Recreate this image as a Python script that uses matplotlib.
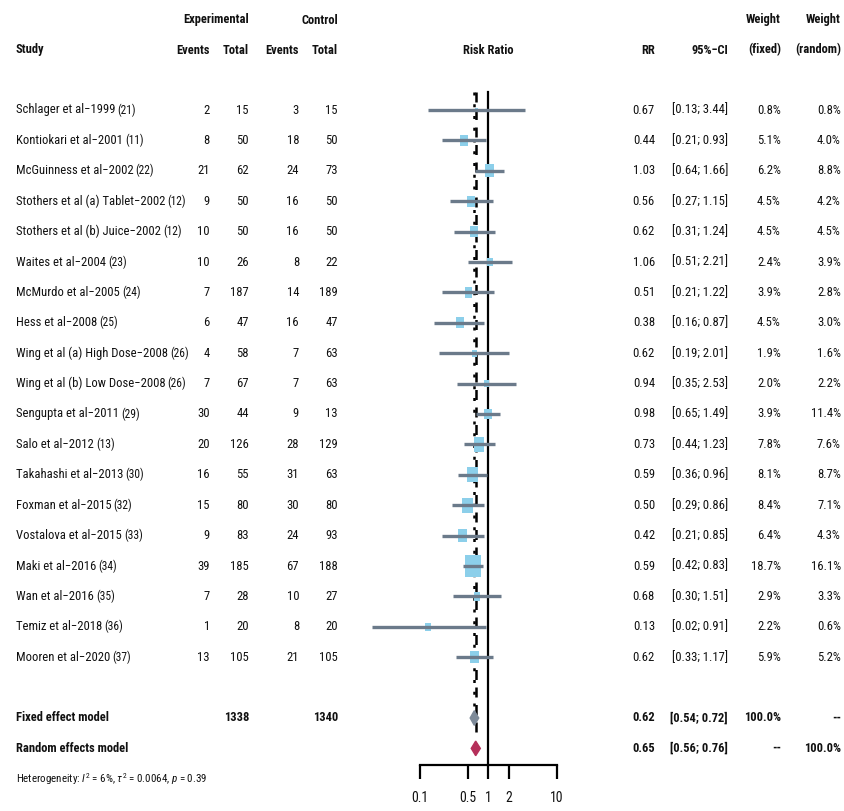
import matplotlib
matplotlib.use("Agg")
import matplotlib.pyplot as plt
import matplotlib.transforms as mtransforms
import matplotlib.font_manager as fm
import numpy as np

# ---------------- data ----------------
study_names = ["Schlager et al\u22121999", "Kontiokari et al\u22122001", "McGuinness et al\u22122002",
               "Stothers et al (a) Tablet\u22122002", "Stothers et al (b) Juice\u22122002",
               "Waites et al\u22122004", "McMurdo et al\u22122005", "Hess et al\u22122008",
               "Wing et al (a) High Dose\u22122008", "Wing et al (b) Low Dose\u22122008",
               "Sengupta et al\u22122011", "Salo et al\u22122012", "Takahashi et al\u22122013",
               "Foxman et al\u22122015", "Vostalova et al\u22122015", "Maki et al\u22122016",
               "Wan et al\u22122016", "Temiz et al\u22122018", "Mooren et al\u22122020"]
study_refs = ["(21)", "(11)", "(22)", "(12)", "(12)", "(23)", "(24)", "(25)", "(26)", "(26)",
              "(29)", "(13)", "(30)", "(32)", "(33)", "(34)", "(35)", "(36)", "(37)"]
events_exp = [2, 8, 21, 9, 10, 10, 7, 6, 4, 7, 30, 20, 16, 15, 9, 39, 7, 1, 13]
total_exp = [15, 50, 62, 50, 50, 26, 187, 47, 58, 67, 44, 126, 55, 80, 83, 185, 28, 20, 105]
events_ctl = [3, 18, 24, 16, 16, 8, 14, 16, 7, 7, 9, 28, 31, 30, 24, 67, 10, 8, 21]
total_ctl = [15, 50, 73, 50, 50, 22, 189, 47, 63, 63, 13, 129, 63, 80, 93, 188, 27, 20, 105]
rr = [0.67, 0.44, 1.03, 0.56, 0.62, 1.06, 0.51, 0.38, 0.62, 0.94, 0.98, 0.73, 0.59, 0.50, 0.42, 0.59, 0.68, 0.13, 0.62]
ci_low = [0.13, 0.21, 0.64, 0.27, 0.31, 0.51, 0.21, 0.16, 0.19, 0.35, 0.65, 0.44, 0.36, 0.29, 0.21, 0.42, 0.30, 0.02, 0.33]
ci_high = [3.44, 0.93, 1.66, 1.15, 1.24, 2.21, 1.22, 0.87, 2.01, 2.53, 1.49, 1.23, 0.96, 0.86, 0.85, 0.83, 1.51, 0.91, 1.17]
w_fixed = [0.8, 5.1, 6.2, 4.5, 4.5, 2.4, 3.9, 4.5, 1.9, 2.0, 3.9, 7.8, 8.1, 8.4, 6.4, 18.7, 2.9, 2.2, 5.9]
w_random = [0.8, 4.0, 8.8, 4.2, 4.5, 3.9, 2.8, 3.0, 1.6, 2.2, 11.4, 7.6, 8.7, 7.1, 4.3, 16.1, 3.3, 0.6, 5.2]

fixed_total_exp, fixed_total_ctl = 1338, 1340
fixed_est, fixed_lo, fixed_hi = 0.62, 0.54, 0.72
random_est, random_lo, random_hi = 0.65, 0.56, 0.76
het_text = r"Heterogeneity: $I^2$ = 6%, $\tau^2$ = 0.0064, $p$ = 0.39"
xticks = [0.1, 0.5, 1, 2, 10]
xtick_labels = ["0.1", "0.5", "1", "2", "10"]

# ---------------- style ----------------
names = {f.name for f in fm.fontManager.ttflist}
fam = next((n for n in ["Liberation Sans Narrow", "Arial Narrow", "Roboto Condensed",
                        "Liberation Sans"] if n in names), "DejaVu Sans")
plt.rcParams["font.family"] = [fam, "DejaVu Sans"]
plt.rcParams["mathtext.fontset"] = "custom"
plt.rcParams["mathtext.rm"] = fam
plt.rcParams["mathtext.it"] = fam + ":italic"
plt.rcParams["mathtext.bf"] = fam + ":bold"

FS = 9.1
FSB = 9.0
FSREF = 8.3
TXT_COL = "#111111"
W, H = 845, 811
fig = plt.figure(figsize=(W / 100, H / 100), dpi=100)

# forest axes: log x, 0.1 -> 420px, 10 -> 557px
px_per_dec = (557 - 420) / 2.0
x_left_px = 420 - px_per_dec
x_right_px = 557 + px_per_dec
row0_px, row_h = 110, 30.4


def prow(px):
    return (px - row0_px) / row_h


ax = fig.add_axes([x_left_px / W, 0, (x_right_px - x_left_px) / W, 1])
ax.set_xscale("log")
ax.set_xlim(0.01, 100)
ax.set_ylim(prow(H), prow(0))
ax.patch.set_visible(False)
for s in ["top", "left", "right"]:
    ax.spines[s].set_visible(False)
axis_row = prow(765)
ax.spines["bottom"].set_position(("data", axis_row))
ax.spines["bottom"].set_bounds(0.1, 10)
ax.spines["bottom"].set_linewidth(1.6)
ax.set_xticks(xticks)
ax.set_xticklabels(xtick_labels, fontsize=FS + 0.8, color=TXT_COL)
ax.xaxis.set_minor_locator(matplotlib.ticker.NullLocator())
ax.tick_params(axis="x", direction="out", length=10, width=1.6, pad=9)
ax.set_yticks([])

n = len(study_names)
rows = np.arange(n)
fixed_row = n + 1
random_row = n + 2
het_row = n + 3
top_row = prow(92)

# reference lines
ax.plot([1, 1], [top_row, axis_row], color="black", lw=1.6, zorder=1)
ax.plot([fixed_est, fixed_est], [top_row, fixed_row - 0.3], color="black", lw=1.8,
        ls=(0, (1.2, 3.5)), zorder=1)
ax.plot([random_est, random_est], [top_row, random_row - 0.3], color="black", lw=1.8,
        ls=(0, (4, 3)), zorder=1)

# squares + CIs (slightly tall rectangles as in the reference)
sq_col = "#8ccfea"
line_col = "#6b7a8a"
rect_marker = [(-0.42, -0.58), (0.42, -0.58), (0.42, 0.58), (-0.42, 0.58), (-0.42, -0.58)]
sizes = 260 * np.array(w_fixed) / max(w_fixed)
ax.scatter(rr, rows, s=sizes, marker=rect_marker, color=sq_col, zorder=3, linewidths=0)
ax.hlines(rows, ci_low, ci_high, color=line_col, lw=2.4, zorder=4)

# diamonds
dh = 0.24
ax.fill([fixed_lo, fixed_est, fixed_hi, fixed_est],
        [fixed_row, fixed_row - dh, fixed_row, fixed_row + dh], color="#7d8a99", zorder=3)
ax.fill([random_lo, random_est, random_hi, random_est],
        [random_row, random_row - dh, random_row, random_row + dh], color="#b5305a", zorder=3)

# ---------------- text columns ----------------
tr = mtransforms.blended_transform_factory(fig.transFigure, ax.transData)


def txt(px, row, s, ha="right", bold=False, size=None):
    if size is None:
        size = FSB if bold else FS
    return fig.text(px / W, row, s, transform=tr, ha=ha, va="center", fontsize=size,
                    fontweight="bold" if bold else "normal", color=TXT_COL)


col_ev_e, col_tot_e, col_ev_c, col_tot_c = 210, 249, 299, 338
col_rr, col_ci, col_wf, col_wr = 655, 728, 781, 841
study_x = 16
hdr1, hdr2 = prow(20), prow(50)

txt(col_tot_e, hdr1, "Experimental", bold=True)
txt(col_tot_c, hdr1, "Control", bold=True)
txt(col_wf, hdr1, "Weight", bold=True)
txt(col_wr, hdr1, "Weight", bold=True)
txt(study_x, hdr2, "Study", ha="left", bold=True)
txt(col_ev_e, hdr2, "Events", bold=True)
txt(col_tot_e, hdr2, "Total", bold=True)
txt(col_ev_c, hdr2, "Events", bold=True)
txt(col_tot_c, hdr2, "Total", bold=True)
fig.text(488 / W, hdr2, "Risk Ratio", transform=tr, ha="center", va="center",
         fontsize=FSB, fontweight="bold", color=TXT_COL)
txt(col_rr, hdr2, "RR", bold=True)
txt(col_ci, hdr2, "95%\u2212CI", bold=True)
txt(col_wf, hdr2, "(fixed)", bold=True)
txt(col_wr, hdr2, "(random)", bold=True)

for i in range(n):
    t = txt(study_x, i, study_names[i], ha="left")
    ax.annotate(study_refs[i], xy=(1, 0.5), xycoords=t, xytext=(1.5, 0),
                textcoords="offset points", ha="left", va="center",
                fontsize=FSREF, color=TXT_COL, annotation_clip=False)
    txt(col_ev_e, i, str(events_exp[i]))
    txt(col_tot_e, i, str(total_exp[i]))
    txt(col_ev_c, i, str(events_ctl[i]))
    txt(col_tot_c, i, str(total_ctl[i]))
    txt(col_rr, i, f"{rr[i]:.2f}")
    txt(col_ci, i, f"[{ci_low[i]:.2f}; {ci_high[i]:.2f}]")
    txt(col_wf, i, f"{w_fixed[i]:.1f}%")
    txt(col_wr, i, f"{w_random[i]:.1f}%")

txt(study_x, fixed_row, "Fixed effect model", ha="left", bold=True)
txt(col_tot_e, fixed_row, str(fixed_total_exp), bold=True)
txt(col_tot_c, fixed_row, str(fixed_total_ctl), bold=True)
txt(col_rr, fixed_row, f"{fixed_est:.2f}", bold=True)
txt(col_ci, fixed_row, f"[{fixed_lo:.2f}; {fixed_hi:.2f}]", bold=True)
txt(col_wf, fixed_row, "100.0%", bold=True)
txt(col_wr, fixed_row, "--", bold=True)

txt(study_x, random_row, "Random effects model", ha="left", bold=True)
txt(col_rr, random_row, f"{random_est:.2f}", bold=True)
txt(col_ci, random_row, f"[{random_lo:.2f}; {random_hi:.2f}]", bold=True)
txt(col_wf, random_row, "--", bold=True)
txt(col_wr, random_row, "100.0%", bold=True)

txt(study_x, het_row, het_text, ha="left", size=7.9)

fig.savefig("out.png", dpi=100, facecolor="white")
